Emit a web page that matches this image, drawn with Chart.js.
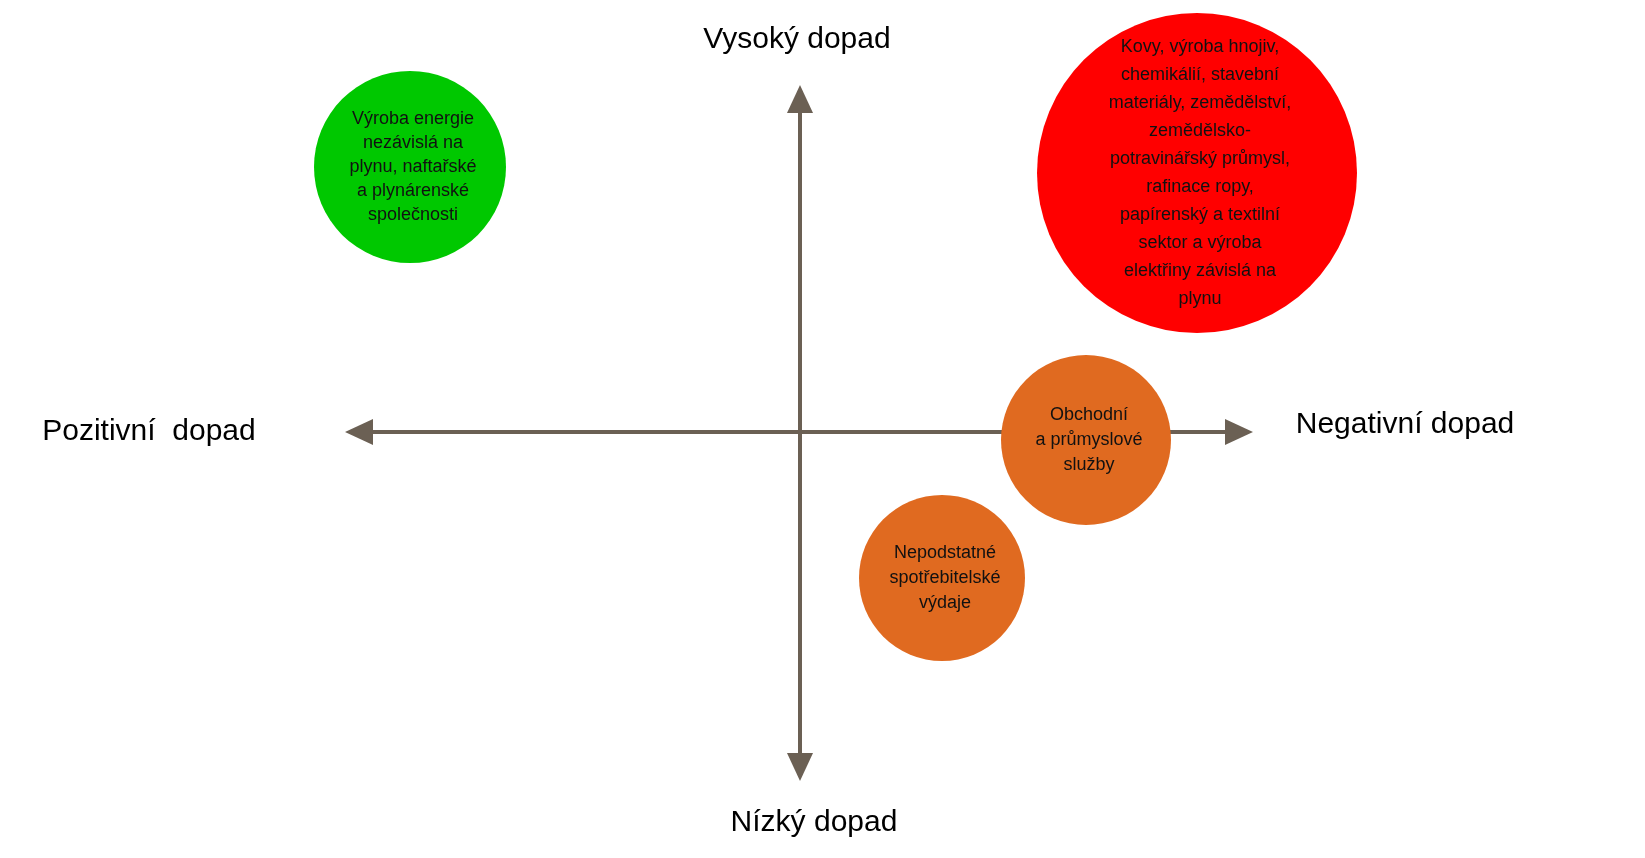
<!DOCTYPE html>
<html>
<head>
<meta charset="utf-8">
<script src="https://cdn.jsdelivr.net/npm/chart.js@4"></script>
<style>
  html, body { margin: 0; padding: 0; background: #fff; }
</style>
</head>
<body>
<canvas id="chart" width="1645" height="858"></canvas>
<script>
// bubble positions in picture units (x right, y down), radius in px
const sectors = [
    "Výroba energie\nnezávislá na\nplynu, naftařské\na plynárenské\nspolečnosti",
    "Kovy, výroba hnojiv,\nchemikálií, stavební\nmateriály, zemědělství,\nzemědělsko-\npotravinářský průmysl,\nrafinace ropy,\npapírenský a textilní\nsektor a výroba\nelektřiny závislá na\nplynu",
    "Obchodní\na průmyslové\nslužby",
    "Nepodstatné\nspotřebitelské\nvýdaje"
];
const xValues = [410, 1197, 1086, 942];
const yValues = [167, 173, 440, 578];
const radii = [96, 160, 85, 83];
const colors = ["#00c800", "#ff0000", "#e06a20", "#e06a20"];
const lineHeights = [24, 28, 25, 25];

// axis arrows and their captions
const axisX = 800, axisY = 432;
const axisLeft = 345, axisRight = 1253, axisTop = 85, axisBottom = 781;
const axisCaptions = [
    { text: "Vysoký dopad", x: 797, y: 40 },
    { text: "Nízký dopad", x: 814, y: 823 },
    { text: "Pozitivní  dopad", x: 149, y: 432 },
    { text: "Negativní dopad", x: 1405, y: 425 }
];

// bubble charts inset the plot area by the largest radius; match scales to it
const W = 1645, H = 858;
const pad = Math.max(...radii);

const arrowPlugin = {
    id: "arrows",
    beforeDatasetsDraw(chart) {
        const { ctx, scales: { x, y } } = chart;
        const c = "#6b6054";
        const X = x.getPixelForValue(axisX), Y = y.getPixelForValue(axisY);
        const L = x.getPixelForValue(axisLeft), R = x.getPixelForValue(axisRight);
        const T = y.getPixelForValue(axisTop), B = y.getPixelForValue(axisBottom);
        ctx.save();
        ctx.strokeStyle = c;
        ctx.fillStyle = c;
        ctx.lineWidth = 4;
        ctx.beginPath();
        ctx.moveTo(L + 20, Y); ctx.lineTo(R - 20, Y);
        ctx.moveTo(X, T + 20); ctx.lineTo(X, B - 20);
        ctx.stroke();
        const tri = (p) => { ctx.beginPath(); ctx.moveTo(...p[0]); ctx.lineTo(...p[1]); ctx.lineTo(...p[2]); ctx.closePath(); ctx.fill(); };
        tri([[L, Y], [L + 28, Y - 13], [L + 28, Y + 13]]);
        tri([[R, Y], [R - 28, Y - 13], [R - 28, Y + 13]]);
        tri([[X, T], [X - 13, T + 28], [X + 13, T + 28]]);
        tri([[X, B], [X - 13, B - 28], [X + 13, B - 28]]);
        ctx.fillStyle = "#000";
        ctx.font = "30px Arial, 'Liberation Sans', sans-serif";
        ctx.textAlign = "center";
        ctx.textBaseline = "middle";
        axisCaptions.forEach(a => ctx.fillText(a.text, x.getPixelForValue(a.x), y.getPixelForValue(a.y)));
        ctx.restore();
    },
    afterDatasetsDraw(chart) {
        const { ctx } = chart;
        const meta = chart.getDatasetMeta(0);
        ctx.save();
        ctx.fillStyle = "#111";
        ctx.font = "18px Arial, 'Liberation Sans', sans-serif";
        ctx.textAlign = "center";
        ctx.textBaseline = "middle";
        meta.data.forEach((el, i) => {
            const lines = sectors[i].split("\n");
            const lh = lineHeights[i];
            const y0 = el.y - (lines.length - 1) * lh / 2;
            lines.forEach((t, k) => ctx.fillText(t, el.x + 3, y0 + k * lh));
        });
        ctx.restore();
    }
};

new Chart(document.getElementById("chart").getContext("2d"), {
    type: "bubble",
    data: {
        datasets: [{
            data: xValues.map((v, i) => ({ x: v, y: yValues[i], r: radii[i] })),
            backgroundColor: colors,
            borderWidth: 0,
            clip: false
        }]
    },
    options: {
        responsive: false,
        animation: false,
        layout: { padding: 0 },
        plugins: { legend: { display: false }, tooltip: { enabled: false } },
        scales: {
            x: { type: "linear", min: pad, max: W - pad, display: false },
            y: { type: "linear", min: pad, max: H - pad, reverse: true, display: false }
        }
    },
    plugins: [arrowPlugin]
});
</script>
</body>
</html>
